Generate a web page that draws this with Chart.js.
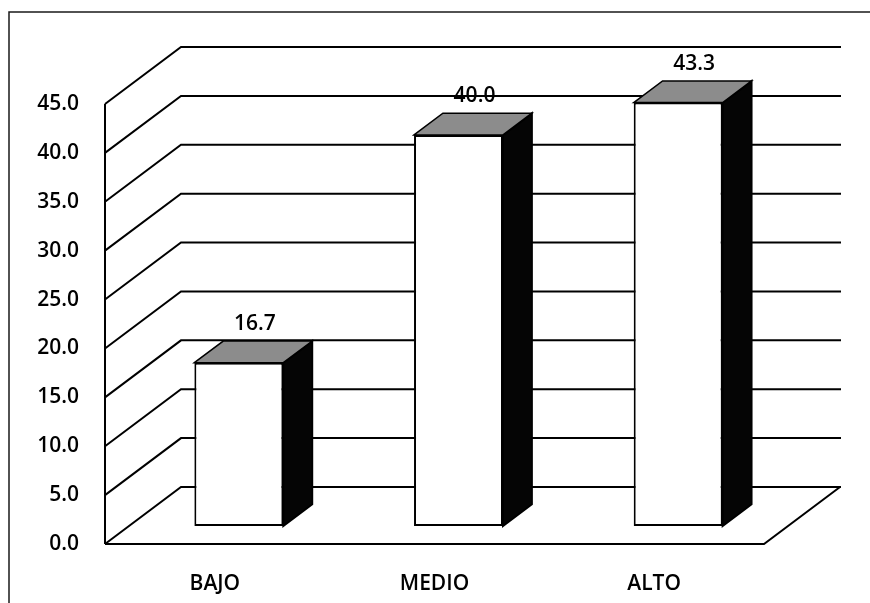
<!DOCTYPE html>
<html>
<head>
<meta charset="utf-8">
<script src="https://cdn.jsdelivr.net/npm/chart.js@4.4.1/dist/chart.umd.min.js"></script>
<style>
  html, body { margin: 0; padding: 0; background: #ffffff; }
  #wrap { position: relative; width: 870px; height: 603px; }
  canvas { display: block; }
</style>
</head>
<body>
<div id="wrap"><canvas id="chart" width="870" height="603"></canvas></div>
<script>
// Categories and percentages
const categories = ['BAJO', 'MEDIO', 'ALTO'];
const percentages = [16.7, 40.0, 43.3];

// Value axis range
const axisMin = 0;
const axisMax = 45;
const axisStep = 5;

// 3D projection: full depth of the plot box, and where the bars sit within it
const DEPTH_X = 76;
const DEPTH_Y = -57;
const BAR_SHIFT = 0.316;   // fraction of depth in front of the bar
const BAR_DEPTH = 0.38;    // fraction of depth taken by the bar itself

const FONT = { family: "'Open Sans', 'Noto Sans', sans-serif", size: 21, weight: '600' };
const FONT_CSS = FONT.weight + ' ' + FONT.size + 'px ' + FONT.family;

const boxPlugin = {
  id: 'box3d',
  beforeDraw(chart) {
    const ctx = chart.ctx;
    const { left, right, top, bottom } = chart.chartArea;
    const y = chart.scales.y;
    ctx.save();
    // frame around the figure
    ctx.strokeStyle = '#1a1a1a';
    ctx.lineWidth = 1.5;
    ctx.beginPath();
    ctx.moveTo(9, 603);
    ctx.lineTo(9, 12);
    ctx.lineTo(870, 12);
    ctx.stroke();

    ctx.strokeStyle = '#000';
    ctx.lineWidth = 2;
    // side wall and back wall gridlines
    y.ticks.forEach(t => {
      const py = y.getPixelForValue(t.value);
      ctx.beginPath();
      ctx.moveTo(left, py);
      ctx.lineTo(left + DEPTH_X, py + DEPTH_Y);
      ctx.lineTo(right + DEPTH_X + 1, py + DEPTH_Y);
      ctx.stroke();
    });
    // front vertical axis
    ctx.beginPath();
    ctx.moveTo(left, top);
    ctx.lineTo(left, bottom);
    ctx.stroke();
    // floor front and right edges
    ctx.beginPath();
    ctx.moveTo(left, bottom);
    ctx.lineTo(right, bottom);
    ctx.lineTo(right + DEPTH_X, bottom + DEPTH_Y);
    ctx.stroke();
    ctx.restore();
  },
  beforeDatasetsDraw(chart) {
    chart.ctx.save();
    chart.ctx.translate(DEPTH_X * BAR_SHIFT, DEPTH_Y * BAR_SHIFT);
  },
  afterDatasetsDraw(chart) {
    const ctx = chart.ctx;
    const dx = DEPTH_X * BAR_DEPTH;
    const dy = DEPTH_Y * BAR_DEPTH;
    const meta = chart.getDatasetMeta(0);
    meta.data.forEach(bar => {
      const { x, y, base, width } = bar.getProps(['x', 'y', 'base', 'width'], true);
      const xl = x - width / 2;
      const xr = x + width / 2;
      // side face
      ctx.beginPath();
      ctx.moveTo(xr, y);
      ctx.lineTo(xr + dx, y + dy);
      ctx.lineTo(xr + dx, base + dy);
      ctx.lineTo(xr, base);
      ctx.closePath();
      ctx.fillStyle = '#050505';
      ctx.fill();
      ctx.strokeStyle = '#000';
      ctx.lineWidth = 2;
      ctx.stroke();
      // top face
      ctx.beginPath();
      ctx.moveTo(xl, y);
      ctx.lineTo(xl + dx, y + dy);
      ctx.lineTo(xr + dx, y + dy);
      ctx.lineTo(xr, y);
      ctx.closePath();
      ctx.fillStyle = '#8c8c8c';
      ctx.fill();
      ctx.lineWidth = 1.5;
      ctx.stroke();
    });
    ctx.restore();

    // value labels above each bar
    ctx.save();
    ctx.font = FONT_CSS;
    ctx.fillStyle = '#000';
    ctx.textAlign = 'center';
    ctx.textBaseline = 'middle';
    meta.data.forEach((bar, i) => {
      const { x, y } = bar.getProps(['x', 'y'], true);
      ctx.fillText(percentages[i].toFixed(1), x + 40, y - 57);
    });
    ctx.restore();
  }
};

function draw() {
  new Chart(document.getElementById('chart'), {
    type: 'bar',
    data: {
      labels: categories,
      datasets: [{
        data: percentages,
        backgroundColor: '#ffffff',
        borderColor: '#000000',
        borderWidth: 2,
        borderSkipped: false,
        categoryPercentage: 1.0,
        barPercentage: 0.405,
        clip: false
      }]
    },
    options: {
      responsive: false,
      animation: false,
      devicePixelRatio: 1,
      layout: { padding: { top: 104, right: 106, bottom: 0, left: 0 } },
      plugins: {
        legend: { display: false },
        tooltip: { enabled: false }
      },
      scales: {
        x: {
          grid: { display: false },
          border: { display: false },
          ticks: { color: '#000', font: FONT, padding: 19, maxRotation: 0 },
          afterFit(scale) { scale.height = 59; }
        },
        y: {
          min: axisMin,
          max: axisMax,
          grid: { display: false },
          border: { display: false },
          ticks: {
            stepSize: axisStep,
            color: '#000',
            font: FONT,
            padding: 18,
            callback: v => Number(v).toFixed(1)
          },
          afterFit(scale) { scale.width = 105; }
        }
      }
    },
    plugins: [boxPlugin]
  });
}

if (document.fonts && document.fonts.load) {
  document.fonts.load(FONT_CSS).then(draw, draw);
} else {
  draw();
}
</script>
</body>
</html>
